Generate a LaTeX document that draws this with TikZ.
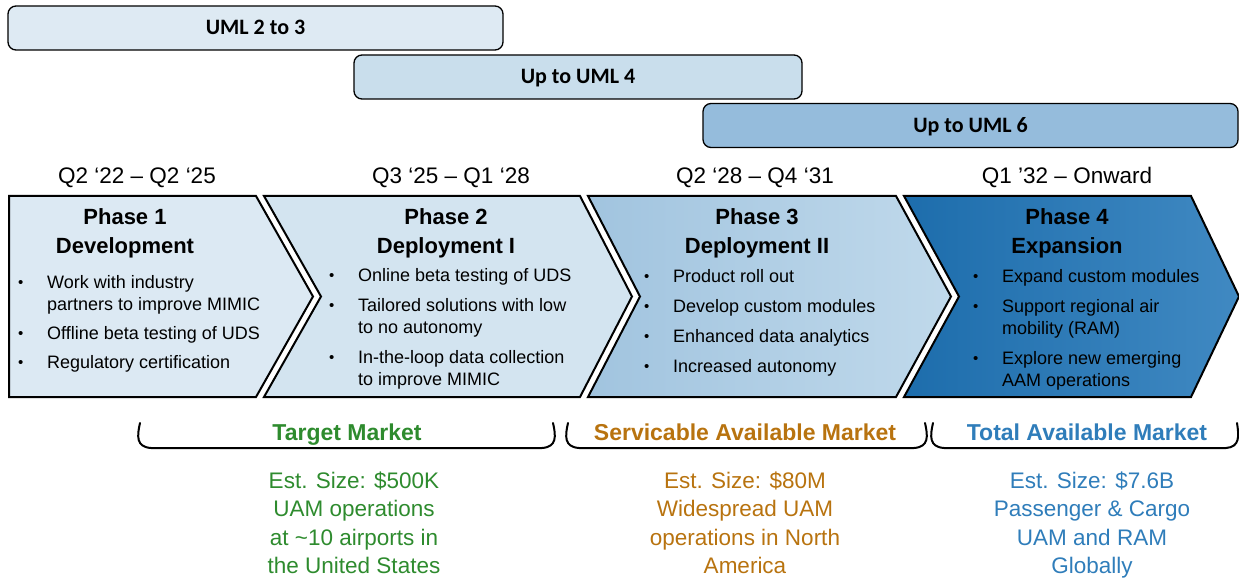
\documentclass[tikz,border=0pt]{standalone}
\usepackage{fontspec}
\setmainfont{Liberation Sans}
\newfontfamily\barfont{Carlito}

\definecolor{barA}{HTML}{DEEAF3}
\definecolor{barB}{HTML}{C9DEEC}
\definecolor{barC}{HTML}{95BCDC}
\definecolor{phA}{HTML}{DCE9F3}
\definecolor{phB}{HTML}{D3E4F0}
\definecolor{phCl}{HTML}{A1C4DF}
\definecolor{phCr}{HTML}{C0D9EB}
\definecolor{phDl}{HTML}{1D6DAC}
\definecolor{phDr}{HTML}{4089C2}
\definecolor{mkGreen}{HTML}{2E8B2E}
\definecolor{mkOrange}{HTML}{B8730F}
\definecolor{mkBlue}{HTML}{2F7DBA}

\tikzset{
  umlbar/.style={draw=black, line width=1.3pt, rounded corners=8pt,
    minimum height=44pt, inner sep=0pt, text height=14pt, text depth=0pt,
    font=\barfont\bfseries\fontsize{22}{26}\selectfont},
  chev/.style={draw=black, line width=2pt, line join=miter},
  datelbl/.style={anchor=base, inner sep=0pt, font=\fontsize{22.5}{27}\selectfont},
  ptitle/.style={anchor=base, inner sep=0pt, font=\bfseries\fontsize{22}{27}\selectfont},
  blist/.style={anchor=base west, inner sep=0pt, font=\fontsize{18}{22}\selectfont},
  mkttitle/.style={anchor=base, inner sep=0pt, font=\bfseries\fontsize{23}{28}\selectfont},
  mktbody/.style={anchor=base, inner sep=0pt, font=\fontsize{22.5}{28.5}\selectfont},
  bracket/.style={draw=black, line width=2pt, line cap=round}
}
% small list bullet, centred on the x-height of the list text
\newcommand{\bul}{\makebox[30pt][l]{\hspace*{1pt}\raisebox{0.8pt}{\fontsize{15}{15}\selectfont\textbullet}}}

\begin{document}
\begin{tikzpicture}[x=1pt,y=-1pt]
\useasboundingbox (0,0) rectangle (1239,580);

% maturity level bars
\node[umlbar, fill=barA, minimum width=495pt] (uml23) at (255.5,28) {UML 2 to 3};
\node[umlbar, fill=barB, minimum width=448pt] (uml4) at (578,77) {Up to UML 4};
\node[umlbar, fill=barC, minimum width=535pt] (uml6) at (970.5,125.5) {Up to UML 6};

% time spans
\node[datelbl] (d1) at (137,184) {Q2 ‘22 – Q2 ‘25};
\node[datelbl] (d2) at (451,184) {Q3 ‘25 – Q1 ‘28};
\node[datelbl] (d3) at (755,184) {Q2 ‘28 – Q4 ‘31};
\node[datelbl] (d4) at (1067,184) {Q1 ’32 – Onward};

% phase chevrons
\path[chev, fill=phA] (9,196) -- (256,196) -- (313,296.5) -- (256,397) -- (9,397) -- cycle;
\path[chev, fill=phB] (264,196) -- (580,196) -- (632,296.5) -- (580,397) -- (264,397) -- (321,296.5) -- cycle;
\path[chev, left color=phCl, right color=phCr] (588,196) -- (896,196) -- (951,296.5) -- (896,397) -- (588,397) -- (640,296.5) -- cycle;
\path[chev, left color=phDl, right color=phDr] (904,196) -- (1191,196) -- (1239,296.5) -- (1191,397) -- (904,397) -- (959,296.5) -- cycle;

% phase titles
\node[ptitle] (t1a) at (125,224) {Phase 1};
\node[ptitle] (t1b) at (125,253) {Development};
\node[ptitle] (t2a) at (446,224) {Phase 2};
\node[ptitle] (t2b) at (446,253) {Deployment I};
\node[ptitle] (t3a) at (757,224) {Phase 3};
\node[ptitle] (t3b) at (757,253) {Deployment II};
\node[ptitle] (t4a) at (1067,224) {Phase 4};
\node[ptitle] (t4b) at (1067,253) {Expansion};

% phase activities
\node[blist] (l1) at (17,288.4) {\begin{tabular}[t]{@{}l@{}l@{}}
\bul & Work with industry\\
     & partners to improve MIMIC\\[7pt]
\bul & Offline beta testing of UDS\\[7pt]
\bul & Regulatory certification
\end{tabular}};
\node[blist] (l2) at (328,281.4) {\begin{tabular}[t]{@{}l@{}l@{}}
\bul & Online beta testing of UDS\\[8pt]
\bul & Tailored solutions with low\\
     & to no autonomy\\[8pt]
\bul & In-the-loop data collection\\
     & to improve MIMIC
\end{tabular}};
\node[blist] (l3) at (643,282.4) {\begin{tabular}[t]{@{}l@{}l@{}}
\bul & Product roll out\\[8pt]
\bul & Develop custom modules\\[8pt]
\bul & Enhanced data analytics\\[8pt]
\bul & Increased autonomy
\end{tabular}};
\node[blist] (l4) at (972,282.4) {\begin{tabular}[t]{@{}l@{}l@{}}
\bul & Expand custom modules\\[8pt]
\bul & Support regional air\\
     & mobility (RAM)\\[8pt]
\bul & Explore new emerging\\
     & AAM operations
\end{tabular}};

% market brackets
\path[bracket] (140,423) .. controls (137,436) and (136,447) .. (151,448) -- (542,448)
  .. controls (557,447) and (556,436) .. (553,423);
\path[bracket] (568,423) .. controls (565,436) and (564,447) .. (579,448) -- (914,448)
  .. controls (929,447) and (928,436) .. (925,423);
\path[bracket] (933,423) .. controls (930,436) and (929,447) .. (944,448) -- (1226,448)
  .. controls (1240,447) and (1239,436) .. (1237,423);

% market titles
\node[mkttitle, text=mkGreen] (mk1) at (347,440) {Target Market};
\node[mkttitle, text=mkOrange] (mk2) at (745,440) {Servicable Available Market};
\node[mkttitle, text=mkBlue] (mk3) at (1087,440) {Total Available Market};

% market sizes
\node[mktbody, text=mkGreen] (ms1) at (354,488) {\begin{tabular}[t]{@{}c@{}}
Est. Size: \$500K\\ UAM operations\\ at \textasciitilde10 airports in\\ the United States
\end{tabular}};
\node[mktbody, text=mkOrange] (ms2) at (745,488) {\begin{tabular}[t]{@{}c@{}}
Est. Size: \$80M\\ Widespread UAM\\ operations in North\\ America
\end{tabular}};
\node[mktbody, text=mkBlue] (ms3) at (1092,488) {\begin{tabular}[t]{@{}c@{}}
Est. Size: \$7.6B\\ Passenger \& Cargo\\ UAM and RAM\\ Globally
\end{tabular}};
\end{tikzpicture}
\end{document}
